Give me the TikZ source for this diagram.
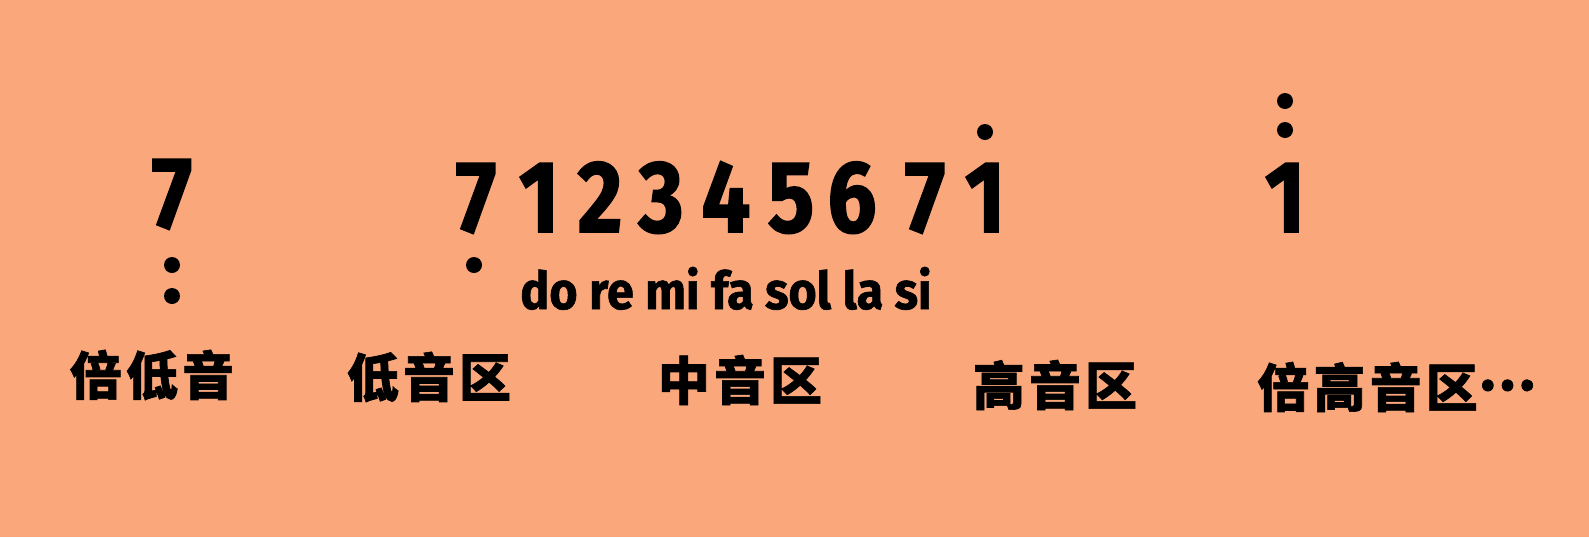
\documentclass[tikz,border=0pt]{standalone}
\usepackage{fontspec}
\usetikzlibrary{positioning}
\newfontfamily\numfont{Fira Sans}[FakeStretch=0.85,FakeBold=1.5]
\newfontfamily\solfont{Fira Sans}[FakeStretch=0.93,FakeBold=1.2]
\newfontfamily\cjk{Noto Sans CJK SC}[LetterSpace=8,FakeBold=1.2]
\definecolor{bgSalmon}{HTML}{F9A77B}

\begin{document}
\begin{tikzpicture}[x=0.5pt,y=-0.5pt,
  num/.style={font=\numfont\bfseries\fontsize{51}{51}\selectfont,inner sep=0pt,anchor=base},
  solfa/.style={font=\solfont\bfseries\fontsize{26}{26}\selectfont,inner sep=0pt,anchor=base},
  dot/.style={circle,fill=black,inner sep=0pt,minimum size=8pt},
  zone/.style={font=\cjk\bfseries\fontsize{26}{26}\selectfont,inner sep=0pt}]
  \fill[bgSalmon] (0,0) rectangle (1589,537);
  \useasboundingbox (0,0) rectangle (1589,537);

  % double low
  \node[num] (dlow) at (172,228) {7};
  \node[dot] (dlowA) at (172,265) {};
  \node[dot] (dlowB) at (172,296) {};

  % low 7, middle octave, high 1
  \foreach \px/\dg [count=\i] in {476/7,539/1,600/2,661/3,726/4,791/5,852/6,925/7,985/1}
    \node[num] (m\i) at (\px,232) {\dg};
  \node[dot] (lowdot) at (474,265) {};
  \node[dot] (highdot) at (985,132) {};
  \node[solfa] (names) at (726,309) {do re mi fa sol la si};

  % double high
  \node[num] (dhigh) at (1285,232) {1};
  \node[dot] (dhighA) at (1285,130) {};
  \node[dot] (dhighB) at (1285,101) {};

  % register labels
  \node[zone] (zA) at (152,375) {倍低音};
  \node[zone] (zB) at (429,377) {低音区};
  \node[zone] (zC) at (740,380) {中音区};
  \node[zone] (zD) at (1055,385) {高音区};
  \node[zone,anchor=west] (zE) at (1257,387) {倍高音区\raisebox{0.32em}{…}};
\end{tikzpicture}
\end{document}
